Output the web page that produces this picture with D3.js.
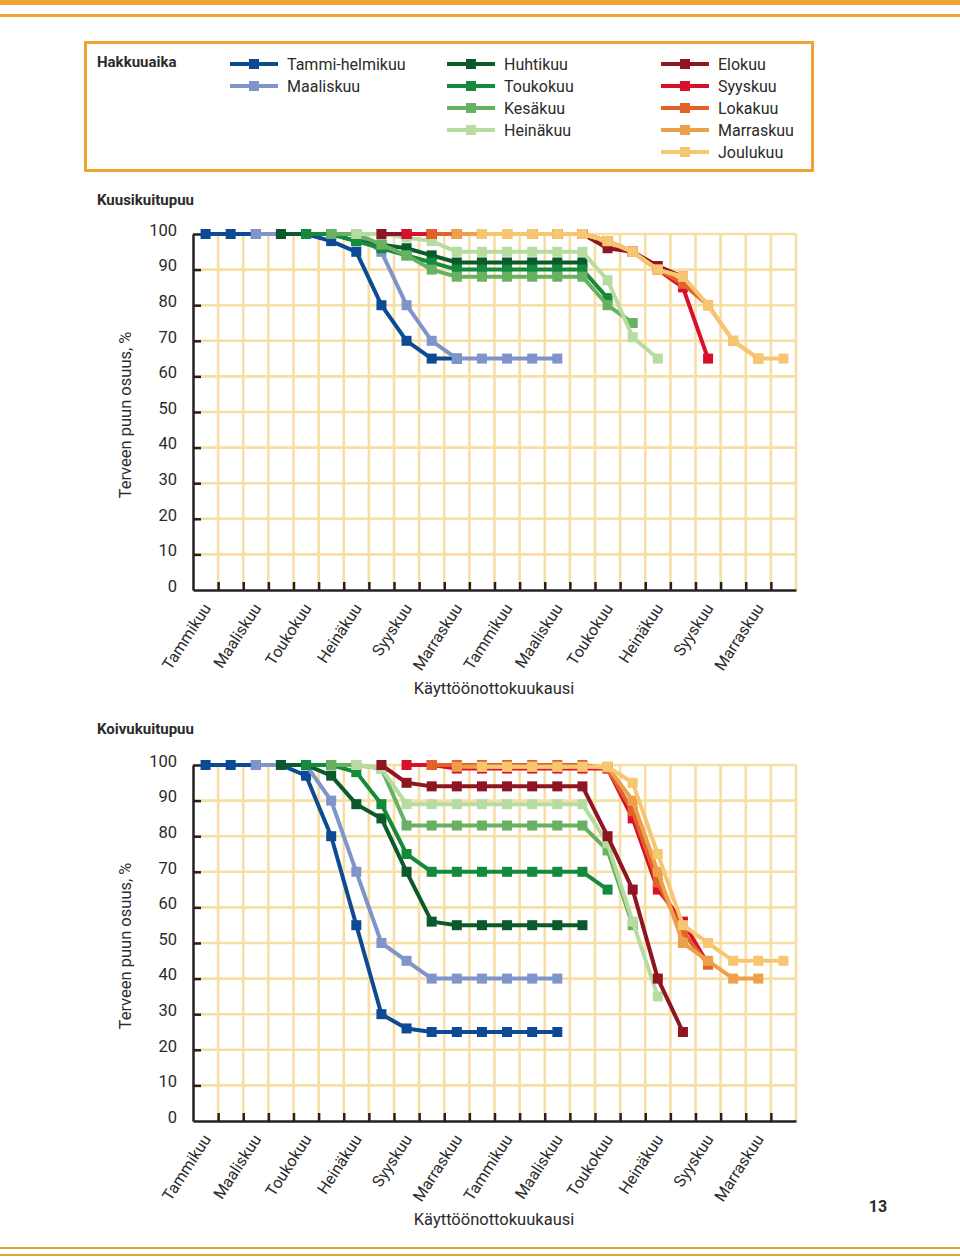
<!DOCTYPE html>
<html><head><meta charset="utf-8">
<script src="https://cdn.jsdelivr.net/npm/d3@7"></script>
<style>body{margin:0;background:#fff}svg{display:block}text{font-family:Roboto,"Open Sans",sans-serif;fill:#2b2b2b}</style>
</head><body><svg id="c" width="960" height="1257"></svg>
<script>
const _ = null;
const monthIndex = d3.range(24);
const tickLabels = ["Tammikuu","Maaliskuu","Toukokuu","Heinäkuu","Syyskuu","Marraskuu","Tammikuu","Maaliskuu","Toukokuu","Heinäkuu","Syyskuu","Marraskuu"];
const yTicks = [0,10,20,30,40,50,60,70,80,90,100];
const seriesNames = ["Tammi-helmikuu","Maaliskuu","Huhtikuu","Toukokuu","Kesäkuu","Heinäkuu","Elokuu","Syyskuu","Lokakuu","Marraskuu","Joulukuu"];
const seriesColors = ["#0d4a94","#8094cc","#0a5a2c","#148a3c","#68b062","#b6dca2","#8e1522","#d9102c","#e2622a","#eda04c","#f7c672"];

// Kuusikuitupuu
const kuusiTammiHelmi = [100,100,100,100,100,98,95,80,70,65,65,_,_,_,_,_,_,_,_,_,_,_,_,_];
const kuusiMaalis     = [_,_,100,100,100,100,100,95,80,70,65,65,65,65,65,_,_,_,_,_,_,_,_,_];
const kuusiHuhti      = [_,_,_,100,100,100,98,97,96,94,92,92,92,92,92,92,_,_,_,_,_,_,_,_];
const kuusiTouko      = [_,_,_,_,100,100,98,96,94,92,90,90,90,90,90,90,82,_,_,_,_,_,_,_];
const kuusiKesa       = [_,_,_,_,_,100,100,97,94,90,88,88,88,88,88,88,80,75,_,_,_,_,_,_];
const kuusiHeina      = [_,_,_,_,_,_,100,100,99,98,95,95,95,95,95,95,87,71,65,_,_,_,_,_];
const kuusiElo        = [_,_,_,_,_,_,_,100,100,100,100,100,100,100,100,100,96,95,91,88,_,_,_,_];
const kuusiSyys       = [_,_,_,_,_,_,_,_,100,100,100,100,100,100,100,100,98,95,90,85,65,_,_,_];
const kuusiLoka       = [_,_,_,_,_,_,_,_,_,100,100,100,100,100,100,100,98,95,90,86,80,_,_,_];
const kuusiMarras     = [_,_,_,_,_,_,_,_,_,_,100,100,100,100,100,100,98,95,90,88,80,70,65,_];
const kuusiJoulu      = [_,_,_,_,_,_,_,_,_,_,_,100,100,100,100,100,98,95,90,88,80,70,65,65];

// Koivukuitupuu
const koivuTammiHelmi = [100,100,100,100,97,80,55,30,26,25,25,25,25,25,25,_,_,_,_,_,_,_,_,_];
const koivuMaalis     = [_,_,100,100,100,90,70,50,45,40,40,40,40,40,40,_,_,_,_,_,_,_,_,_];
const koivuHuhti      = [_,_,_,100,100,97,89,85,70,56,55,55,55,55,55,55,_,_,_,_,_,_,_,_];
const koivuTouko      = [_,_,_,_,100,100,98,89,75,70,70,70,70,70,70,70,65,_,_,_,_,_,_,_];
const koivuKesa       = [_,_,_,_,_,100,100,99,83,83,83,83,83,83,83,83,76,55,_,_,_,_,_,_];
const koivuHeina      = [_,_,_,_,_,_,100,99,89,89,89,89,89,89,89,89,78,56,35,_,_,_,_,_];
const koivuElo        = [_,_,_,_,_,_,_,100,95,94,94,94,94,94,94,94,80,65,40,25,_,_,_,_];
const koivuSyys       = [_,_,_,_,_,_,_,_,100,100,99,99,99,99,99,99,99,85,65,56,44,_,_,_];
const koivuLoka       = [_,_,_,_,_,_,_,_,_,100,100,100,100,100,100,100,99,87,67,53,44,_,_,_];
const koivuMarras     = [_,_,_,_,_,_,_,_,_,_,99.5,99.5,99.5,99.5,99.5,99.5,99.5,90,70,50,45,40,40,_];
const koivuJoulu      = [_,_,_,_,_,_,_,_,_,_,_,99.5,99.5,99.5,99.5,99.5,99.5,95,75,55,50,45,45,45];

const kuusiSeries = [kuusiTammiHelmi,kuusiMaalis,kuusiHuhti,kuusiTouko,kuusiKesa,kuusiHeina,kuusiElo,kuusiSyys,kuusiLoka,kuusiMarras,kuusiJoulu];
const koivuSeries = [koivuTammiHelmi,koivuMaalis,koivuHuhti,koivuTouko,koivuKesa,koivuHeina,koivuElo,koivuSyys,koivuLoka,koivuMarras,koivuJoulu];

const svg = d3.select("#c");
const orange = "#f0a232";
// decorative page lines
svg.append("rect").attr("x",0).attr("y",0).attr("width",960).attr("height",5).attr("fill",orange);
svg.append("rect").attr("x",0).attr("y",14).attr("width",960).attr("height",3).attr("fill",orange);
svg.append("rect").attr("x",0).attr("y",1247).attr("width",960).attr("height",2).attr("fill","#dca632");
svg.append("rect").attr("x",0).attr("y",1254).attr("width",960).attr("height",2).attr("fill","#dca632");
svg.append("text").attr("x",878).attr("y",1212).attr("text-anchor","middle").attr("font-size",16).attr("font-weight",700).text("13");

// legend
svg.append("rect").attr("x",85.5).attr("y",42.5).attr("width",727).attr("height",128).attr("fill","none").attr("stroke",orange).attr("stroke-width",3);
svg.append("text").attr("x",97).attr("y",67).attr("font-size",15).attr("font-weight",700).text("Hakkuuaika");
const legendCol = [0,0,1,1,1,1,2,2,2,2,2];
const legendRow = [0,1,0,1,2,3,0,1,2,3,4];
const colX = [230,447,661];
seriesNames.forEach((n,i)=>{
  const x0 = colX[legendCol[i]], y0 = 64 + legendRow[i]*22;
  const g = svg.append("g");
  g.append("line").attr("x1",x0).attr("x2",x0+48).attr("y1",y0).attr("y2",y0).attr("stroke",seriesColors[i]).attr("stroke-width",4);
  g.append("rect").attr("x",x0+19).attr("y",y0-5).attr("width",10).attr("height",10).attr("fill",seriesColors[i]);
  g.append("text").attr("x",x0+57).attr("y",y0+5.5).attr("font-size",16).text(n);
});

function drawChart(title, titleY, y0px, series){
  const x = d3.scaleBand().domain(monthIndex).range([193,796]);
  const xl = d3.scaleLinear().domain([0,24]).range([193,796]);
  const y = d3.scaleLinear().domain([0,100]).range([y0px, y0px-356]);
  svg.append("text").attr("x",97).attr("y",titleY).attr("font-size",15).attr("font-weight",700).text(title);
  const grid = svg.append("g").attr("stroke","#f7dea4").attr("stroke-width",2.6);
  d3.range(1,25).forEach(k=>grid.append("line").attr("x1",xl(k)).attr("x2",xl(k)).attr("y1",y(0)).attr("y2",y(100)));
  yTicks.slice(1).forEach(v=>grid.append("line").attr("x1",193).attr("x2",796).attr("y1",y(v)).attr("y2",y(v)));
  // y axis
  const ya = svg.append("g").attr("transform","translate(193,0)")
    .call(d3.axisLeft(y).tickValues(yTicks).tickSize(-8).tickPadding(16).tickSizeOuter(0));
  ya.select(".domain").attr("stroke","#222").attr("stroke-width",2.5);
  ya.selectAll(".tick line").attr("stroke","#222").attr("stroke-width",2.5).filter(d=>d===0).remove();
  ya.selectAll(".tick text").attr("font-size",16.5).attr("font-family","Roboto, sans-serif").attr("fill","#2b2b2b").attr("y",-4);
  // x axis
  const xa = svg.append("g").attr("transform",`translate(0,${y(0)})`)
    .call(d3.axisBottom(xl).tickValues(d3.range(1,24)).tickSize(-8).tickFormat("").tickSizeOuter(0));
  xa.select(".domain").attr("stroke","#222").attr("stroke-width",2.5);
  xa.selectAll(".tick line").attr("stroke","#222").attr("stroke-width",2.5);
  tickLabels.forEach((t,k)=>{
    const cx = x(k*2) + x.bandwidth()/2;
    svg.append("text").attr("text-anchor","end").attr("font-size",16)
      .attr("transform",`translate(${cx+6},${y(0)+18}) rotate(-57)`).text(t);
  });
  svg.append("text").attr("x",494).attr("y",y(0)+104).attr("text-anchor","middle").attr("font-size",16.5).text("Käyttöönottokuukausi");
  svg.append("text").attr("text-anchor","middle").attr("font-size",16.5)
    .attr("transform",`translate(131,${y(50)+3}) rotate(-90)`).text("Terveen puun osuus, %");
  // series
  const line = d3.line().defined(d=>d.v!==null).x(d=>x(d.i)+x.bandwidth()/2).y(d=>y(d.v));
  series.forEach((vals,si)=>{
    const pts = vals.map((v,i)=>({i,v}));
    const g = svg.append("g");
    g.append("path").attr("d",line(pts)).attr("fill","none").attr("stroke",seriesColors[si]).attr("stroke-width",4).attr("stroke-linejoin","round");
    g.selectAll("rect").data(pts.filter(d=>d.v!==null)).join("rect")
      .attr("x",d=>x(d.i)+x.bandwidth()/2-5).attr("y",d=>y(d.v)-5).attr("width",10).attr("height",10).attr("fill",seriesColors[si]);
  });
}
drawChart("Kuusikuitupuu",205,590,kuusiSeries);
drawChart("Koivukuitupuu",734,1121,koivuSeries);
</script></body></html>
